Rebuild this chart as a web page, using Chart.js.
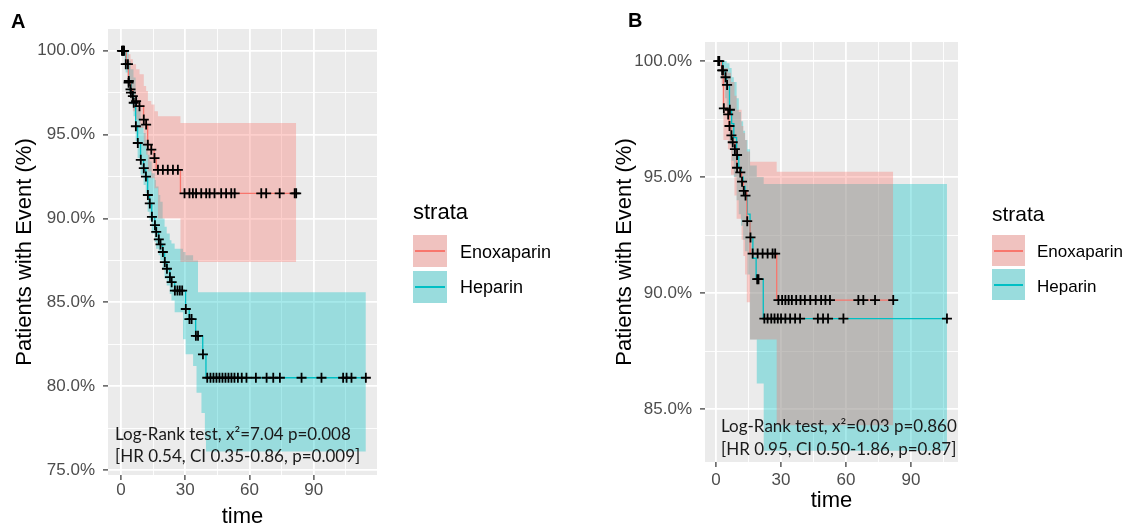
<!DOCTYPE html>
<html><head><meta charset="utf-8">
<script src="https://cdn.jsdelivr.net/npm/chart.js@4.4.0/dist/chart.umd.min.js"></script>
<style>
html,body{margin:0;padding:0;background:#fff;}
#wrap{position:relative;width:1126px;height:528px;overflow:hidden;background:#fff;}
canvas{position:absolute;top:0;}
.t{position:absolute;white-space:nowrap;line-height:1;}
.key{position:absolute;}
.key i{position:absolute;left:2px;right:2px;top:50%;height:2px;margin-top:-1px;}
</style></head><body>
<div id="wrap">
<canvas id="cA" width="563" height="528" style="left:0"></canvas>
<canvas id="cB" width="563" height="528" style="left:563px"></canvas>
</div>
<script>
// ---------- categories ----------
const strata = ['Enoxaparin', 'Heparin'];
const strataColors = ['#F8766D', '#00BFC4'];
const xTicks = [0, 30, 60, 90];
const yTicksA = [75, 80, 85, 90, 95, 100];
const yTicksB = [85, 90, 95, 100];

// ---------- Panel A : Enoxaparin ----------
const enoxTimeA = [0, 2.5, 3.5, 4.4, 5.5, 7.0, 8.6, 10.6, 11.7, 12.5, 14.1, 15.5, 16.5, 27.8, 81.8];
const enoxSurvA = [100, 99.2, 98.1, 97.7, 97.3, 97.0, 96.7, 95.9, 95.6, 94.4, 94.1, 93.6, 92.9, 91.5, 91.5];
const enoxCensTimeA = [0.9, 1.5, 3.3, 3.6, 4.5, 5.6, 7.1, 8.7, 10.7, 11.8, 12.6, 14.2, 15.7, 17.3, 19.6, 21.9, 24.3, 26.6,
  29.7, 32.0, 33.6, 35.1, 37.5, 39.8, 41.4, 43.7, 46.8, 49.1, 51.5, 53.1, 65.5, 67.8, 74.1, 81.1, 81.8];
const enoxCensSurvA = [100, 100, 99.2, 98.1, 97.7, 97.3, 97.0, 96.7, 95.9, 95.6, 94.4, 94.1, 93.6, 92.9, 92.9, 92.9, 92.9, 92.9,
  91.5, 91.5, 91.5, 91.5, 91.5, 91.5, 91.5, 91.5, 91.5, 91.5, 91.5, 91.5, 91.5, 91.5, 91.5, 91.5, 91.5];
const enoxBandTimeA = [0, 3.3, 4.5, 5.6, 7.1, 8.7, 10.7, 11.8, 12.6, 14.2, 15.7, 17.3, 27.8, 81.8];
const enoxUpperA = [100, 99.8, 99.5, 99.2, 98.9, 98.6, 97.9, 97.6, 97.0, 96.8, 96.4, 96.1, 95.7, 95.7];
const enoxLowerA = [100, 98.3, 97.0, 96.4, 95.9, 95.4, 94.3, 93.8, 92.8, 92.4, 91.8, 90.0, 87.4, 87.4];

// ---------- Panel A : Heparin ----------
const hepTimeA = [0, 2.2, 3.6, 4.6, 5.9, 6.9, 7.8, 9.2, 10.6, 11.6, 12.5, 13.4, 14.4, 15.8, 16.4, 17.6, 18.4, 19.5, 20.4,
  21.4, 22.8, 23.6, 25.1, 30.2, 31.9, 34.9, 38.2, 39.7, 114.3];
const hepSurvA = [100, 99.2, 98.2, 97.5, 96.9, 95.5, 94.5, 93.5, 93.0, 92.5, 91.4, 90.9, 90.1, 89.6, 89.2, 88.75, 88.45, 88.0, 87.4,
  87.0, 86.5, 86.2, 85.7, 84.6, 84.0, 83.0, 81.9, 80.5, 80.5];
const hepCensTimeA = [0.5, 1.2, 2.3, 3.7, 4.7, 6.0, 7.0, 7.9, 9.3, 10.7, 11.7, 12.6, 13.5, 14.5, 15.9, 16.5, 17.7, 18.5, 19.6, 20.5,
  21.5, 22.9, 23.7, 25.2, 26.4, 27.5, 28.6, 30.3, 32.0, 33.0, 35.0, 36.0, 38.3,
  40.3, 41.8, 43.2, 44.6, 46.0, 47.4, 48.8, 50.2, 51.6, 53.0, 54.6, 56.4, 58.6, 63.0, 68.0, 71.1, 74.2, 84.3, 93.6, 103.7, 105.3, 107.6, 114.3];
const hepCensSurvA = [100, 100, 99.2, 98.2, 97.5, 96.9, 95.5, 94.5, 93.5, 93.0, 92.5, 91.4, 90.9, 90.1, 89.6, 89.2, 88.75, 88.45, 88.0, 87.4,
  87.0, 86.5, 86.2, 85.7, 85.7, 85.7, 85.7, 84.6, 84.0, 84.0, 83.0, 83.0, 81.9,
  80.5, 80.5, 80.5, 80.5, 80.5, 80.5, 80.5, 80.5, 80.5, 80.5, 80.5, 80.5, 80.5, 80.5, 80.5, 80.5, 80.5, 80.5, 80.5, 80.5, 80.5, 80.5, 80.5];
const hepBandTimeA = [0, 2.2, 3.6, 4.6, 5.9, 6.9, 7.8, 9.2, 10.6, 11.6, 12.5, 13.4, 14.4, 15.8, 16.4, 17.6, 18.4, 19.5, 20.4, 21.4,
  22.8, 23.6, 25.1, 29.0, 30.2, 33.7, 35.3, 36.0, 37.6, 39.2, 39.7, 114.3];
const hepUpperA = [100, 100, 99.4, 98.9, 98.4, 97.3, 96.5, 95.6, 95.1, 94.7, 93.8, 93.4, 92.7, 92.3, 91.9, 91.4, 91.0, 90.0, 89.5, 89.1,
  88.7, 88.5, 88.2, 88.0, 87.8, 87.5, 87.5, 85.6, 85.6, 85.6, 85.6, 85.6];
const hepLowerA = [100, 98.7, 97.6, 96.8, 96.1, 94.6, 93.6, 92.6, 92.0, 91.5, 90.4, 89.9, 89.1, 88.6, 88.2, 87.8, 87.5, 87.0, 86.4, 86.0,
  85.5, 85.1, 84.4, 82.8, 81.9, 81.2, 79.6, 79.6, 78.4, 76.8, 76.1, 76.1];

// ---------- Panel B : Enoxaparin ----------
const enoxTimeB = [0, 2.5, 3.4, 5.5, 6.0, 6.9, 7.5, 8.5, 9.5, 11.0, 11.8, 12.6, 14.2, 15.7, 28.0, 81.8];
const enoxSurvB = [100, 99.6, 97.96, 97.7, 97.2, 96.8, 96.5, 96.2, 95.4, 95.2, 94.8, 94.4, 93.1, 91.7, 89.7, 89.7];
const enoxCensTimeB = [1.0, 2.8, 3.6, 5.6, 6.2, 7.1, 7.7, 8.7, 9.7, 11.2, 12.0, 12.8, 14.4, 16.9, 19.2, 21.5, 23.8, 26.1, 27.3,
  28.8, 30.5, 32.0, 33.5, 35.0, 37.0, 39.0, 41.0, 43.5, 46.0, 48.5, 50.5, 52.6, 65.7, 68.0, 73.4, 81.8];
const enoxCensSurvB = [100, 99.6, 97.96, 97.7, 97.2, 96.8, 96.5, 96.2, 95.4, 95.2, 94.8, 94.4, 93.1, 91.7, 91.7, 91.7, 91.7, 91.7, 91.7,
  89.7, 89.7, 89.7, 89.7, 89.7, 89.7, 89.7, 89.7, 89.7, 89.7, 89.7, 89.7, 89.7, 89.7, 89.7, 89.7, 89.7];
const enoxBandTimeB = [0, 2.5, 3.4, 5.5, 6.9, 8.5, 9.5, 11.8, 12.6, 13.4, 14.2, 15.7, 28.0, 81.8];
const enoxUpperB = [100, 99.9, 99.7, 99.5, 99.1, 98.5, 97.9, 97.2, 96.9, 96.6, 96.1, 95.66, 95.23, 95.23];
const enoxLowerB = [100, 98.9, 96.6, 96.2, 95.1, 94.2, 93.2, 92.3, 91.6, 90.8, 89.6, 88.0, 84.3, 84.3];

// ---------- Panel B : Heparin ----------
const hepTimeB = [0, 3.0, 4.2, 4.9, 6.2, 7.2, 8.2, 9.5, 10.5, 11.5, 12.5, 13.4, 14.5, 15.7, 17.0, 18.5, 21.8, 106.6];
const hepSurvB = [100, 99.6, 99.3, 98.97, 97.9, 97.3, 96.7, 95.95, 95.4, 95.0, 94.6, 94.2, 93.4, 92.4, 91.5, 90.6, 88.9, 88.9];
const hepCensTimeB = [1.5, 3.2, 4.4, 5.1, 6.4, 9.7, 13.6, 15.9, 19.0, 19.6,
  22.3, 23.8, 25.5, 27.0, 28.5, 30.0, 32.0, 34.2, 36.5, 38.8, 47.0, 49.4, 51.7, 58.8, 106.6];
const hepCensSurvB = [100, 99.6, 99.3, 98.97, 97.9, 95.95, 94.2, 92.4, 90.6, 90.6,
  88.9, 88.9, 88.9, 88.9, 88.9, 88.9, 88.9, 88.9, 88.9, 88.9, 88.9, 88.9, 88.9, 88.9, 88.9];
const hepBandTimeB = [0, 3.0, 4.2, 4.9, 6.2, 7.2, 8.2, 9.5, 10.5, 11.5, 12.5, 13.4, 14.5, 15.7, 18.8, 22.0, 106.6];
const hepUpperB = [100, 100, 100, 99.9, 99.7, 99.3, 99.1, 98.4, 97.8, 97.4, 97.0, 96.6, 96.2, 95.5, 95.0, 94.7, 94.7];
const hepLowerB = [100, 99.0, 98.4, 97.8, 96.4, 95.7, 95.0, 94.0, 93.4, 92.9, 92.3, 91.8, 90.8, 88.0, 86.1, 83.2, 83.2];

// ---------- texts ----------
const panelLabels = ['A', 'B'];
const testTextA = ['Log-Rank test, x\u00B2=7.04 p=0.008', '[HR 0.54, CI 0.35-0.86, p=0.009]'];
const testTextB = ['Log-Rank test, x\u00B2=0.03 p=0.860', '[HR 0.95, CI 0.50-1.86, p=0.87]'];
const legendTitle = 'strata';
const xTitle = 'time';
const yTitle = 'Patients with Event (%)';

// ---------- helpers ----------
function pts(xs, ys) { return xs.map((x, i) => ({ x: x, y: ys[i] })); }
function isMajor(v, majors) { return majors.some(m => Math.abs(m - v) < 1e-6); }
function halfGrid(majors, min, max) {
  const s = (majors[1] - majors[0]) / 2, out = [];
  for (let k = -10; k < 60; k++) { const v = majors[0] + k * s; if (v >= min - 1e-9 && v <= max + 1e-9) out.push(+v.toFixed(4)); }
  return out;
}
const panelBg = { id: 'panelBg', beforeDraw(chart) {
  const a = chart.chartArea, c = chart.ctx; c.save(); c.fillStyle = '#EBEBEB';
  c.fillRect(a.left, a.top, a.right - a.left, a.bottom - a.top); c.restore(); } };

const FILL_ALPHA = 0.35;
function rgba(hex, a) { const n = parseInt(hex.slice(1), 16); return 'rgba(' + (n >> 16) + ',' + ((n >> 8) & 255) + ',' + (n & 255) + ',' + a + ')'; }

function makeChart(id, d, L) {
  const cross = { showLine: false, pointStyle: 'cross', pointRadius: 5, pointHoverRadius: 5, pointBorderWidth: 1.8,
    pointBorderColor: '#000', borderColor: '#000', backgroundColor: '#000', fill: false };
  const band = { stepped: true, borderWidth: 0, borderColor: 'rgba(0,0,0,0)', pointRadius: 0 };
  const datasets = [
    Object.assign({ data: pts(d.enoxCT, d.enoxCS) }, cross),
    Object.assign({ data: pts(d.hepCT, d.hepCS) }, cross),
    { data: pts(d.enoxT, d.enoxS), stepped: true, borderColor: strataColors[0], borderWidth: 1.3, pointRadius: 0, fill: false },
    { data: pts(d.hepT, d.hepS), stepped: true, borderColor: strataColors[1], borderWidth: 1.3, pointRadius: 0, fill: false },
    Object.assign({ data: pts(d.enoxBT, d.enoxU), fill: '+1', backgroundColor: rgba(strataColors[0], FILL_ALPHA) }, band),
    Object.assign({ data: pts(d.enoxBT, d.enoxL), fill: false }, band),
    Object.assign({ data: pts(d.hepBT, d.hepU), fill: '+1', backgroundColor: rgba(strataColors[1], FILL_ALPHA) }, band),
    Object.assign({ data: pts(d.hepBT, d.hepL), fill: false }, band)
  ];
  const tickFont = { family: 'Liberation Sans', size: 17 };
  return new Chart(document.getElementById(id), {
    type: 'line',
    data: { datasets: datasets },
    options: {
      responsive: false, animation: false, devicePixelRatio: 1,
      layout: { padding: { left: L.padL, right: L.padR, top: L.padT, bottom: 0 } },
      plugins: { legend: { display: false }, tooltip: { enabled: false } },
      scales: {
        x: {
          type: 'linear', min: L.xMin, max: L.xMax,
          afterBuildTicks: ax => { ax.ticks = halfGrid(xTicks, L.xMin, L.xMax).map(v => ({ value: v })); },
          afterFit: ax => { ax.height = L.xAxisH; },
          grid: { color: '#FFFFFF', lineWidth: c => isMajor(c.tick.value, xTicks) ? 1.8 : 0.9,
            tickColor: c => isMajor(c.tick.value, xTicks) ? '#333333' : 'rgba(0,0,0,0)', tickLength: 5, tickWidth: 1.2 },
          border: { display: false },
          ticks: { autoSkip: false, maxRotation: 0, padding: L.xTickPad, color: '#4D4D4D', font: tickFont,
            callback: v => isMajor(v, xTicks) ? String(v) : '' },
          title: { display: true, text: xTitle, color: '#000', font: { family: 'Liberation Sans', size: 22, lineHeight: 1 },
            padding: { top: 0, bottom: L.xTitlePad } }
        },
        y: {
          type: 'linear', min: L.yMin, max: L.yMax,
          afterBuildTicks: ax => { ax.ticks = halfGrid(L.yTicks, L.yMin, L.yMax).map(v => ({ value: v })); },
          afterFit: ax => { ax.width = L.yAxisW; },
          grid: { color: '#FFFFFF', lineWidth: c => isMajor(c.tick.value, L.yTicks) ? 1.8 : 0.9,
            tickColor: c => isMajor(c.tick.value, L.yTicks) ? '#333333' : 'rgba(0,0,0,0)', tickLength: 5, tickWidth: 1.2 },
          border: { display: false },
          ticks: { autoSkip: false, padding: 8, color: '#4D4D4D', font: tickFont,
            callback: v => isMajor(v, L.yTicks) ? v.toFixed(1) + '%' : '' },
          title: { display: true, text: yTitle, color: '#000', font: { family: 'Liberation Sans', size: 22, lineHeight: 1.2 },
            padding: { top: 11.8, bottom: 0 } }
        }
      }
    },
    plugins: [panelBg]
  });
}

makeChart('cA', {
  enoxT: enoxTimeA, enoxS: enoxSurvA, enoxCT: enoxCensTimeA, enoxCS: enoxCensSurvA,
  enoxBT: enoxBandTimeA, enoxU: enoxUpperA, enoxL: enoxLowerA,
  hepT: hepTimeA, hepS: hepSurvA, hepCT: hepCensTimeA, hepCS: hepCensSurvA,
  hepBT: hepBandTimeA, hepU: hepUpperA, hepL: hepLowerA
}, { padL: 0, padR: 186, padT: 29, xAxisH: 53, yAxisW: 108, xTickPad: 0, xTitlePad: 0,
     xMin: -6, xMax: 119.5, yMin: 74.7, yMax: 101.3, yTicks: yTicksA });

makeChart('cB', {
  enoxT: enoxTimeB, enoxS: enoxSurvB, enoxCT: enoxCensTimeB, enoxCS: enoxCensSurvB,
  enoxBT: enoxBandTimeB, enoxU: enoxUpperB, enoxL: enoxLowerB,
  hepT: hepTimeB, hepS: hepSurvB, hepCT: hepCensTimeB, hepCS: hepCensSurvB,
  hepBT: hepBandTimeB, hepU: hepUpperB, hepL: hepLowerB
}, { padL: 37, padR: 168, padT: 42, xAxisH: 66, yAxisW: 105, xTickPad: 3, xTitlePad: 16,
     xMin: -5.1, xMax: 111.7, yMin: 82.72, yMax: 100.82, yTicks: yTicksB });

// ---------- overlay text (legend, labels, test results) ----------
const wrap = document.getElementById('wrap');
function addText(txt, x, baseline, size, family, weight, color, ascF) {
  const el = document.createElement('div'); el.className = 't'; el.textContent = txt;
  el.style.left = x + 'px'; el.style.top = (baseline - ascF * size) + 'px';
  el.style.fontSize = size + 'px'; el.style.fontFamily = family; el.style.fontWeight = weight; el.style.color = color;
  wrap.appendChild(el); return el;
}
const LIB = 0.8465, LATO = 0.887;
addText(panelLabels[0], 11, 28, 20, 'Liberation Sans', 'bold', '#000', LIB);
addText(panelLabels[1], 628, 27, 20, 'Liberation Sans', 'bold', '#000', LIB);
addText(testTextA[0], 115, 440, 17, 'Lato', 'normal', '#1a1a1a', LATO);
addText(testTextA[1], 115, 462, 17, 'Lato', 'normal', '#1a1a1a', LATO);
addText(testTextB[0], 721, 432, 17, 'Lato', 'normal', '#1a1a1a', LATO);
addText(testTextB[1], 721, 455, 17, 'Lato', 'normal', '#1a1a1a', LATO);

function addLegend(x, titleBase, titleSize, keyTops, keyW, keyH, labelX, labelBases, labelSize) {
  addText(legendTitle, x, titleBase, titleSize, 'Liberation Sans', 'normal', '#000', LIB);
  strata.forEach((s, i) => {
    const k = document.createElement('div'); k.className = 'key';
    k.style.left = x + 'px'; k.style.top = keyTops[i] + 'px'; k.style.width = keyW + 'px'; k.style.height = keyH + 'px';
    k.style.background = '#EBEBEB';
    const f = document.createElement('div'); f.style.position = 'absolute'; f.style.inset = '0';
    f.style.background = rgba(strataColors[i], FILL_ALPHA); k.appendChild(f);
    const ln = document.createElement('i'); ln.style.background = strataColors[i]; k.appendChild(ln);
    wrap.appendChild(k);
    addText(s, labelX, labelBases[i], labelSize, 'Liberation Sans', 'normal', '#000', LIB);
  });
}
addLegend(413, 220, 22, [235, 271], 34, 32, 460, [258, 293], 18);
addLegend(992, 221, 21, [235, 269], 33, 31, 1037, [257, 292], 17);
</script>
</body></html>
